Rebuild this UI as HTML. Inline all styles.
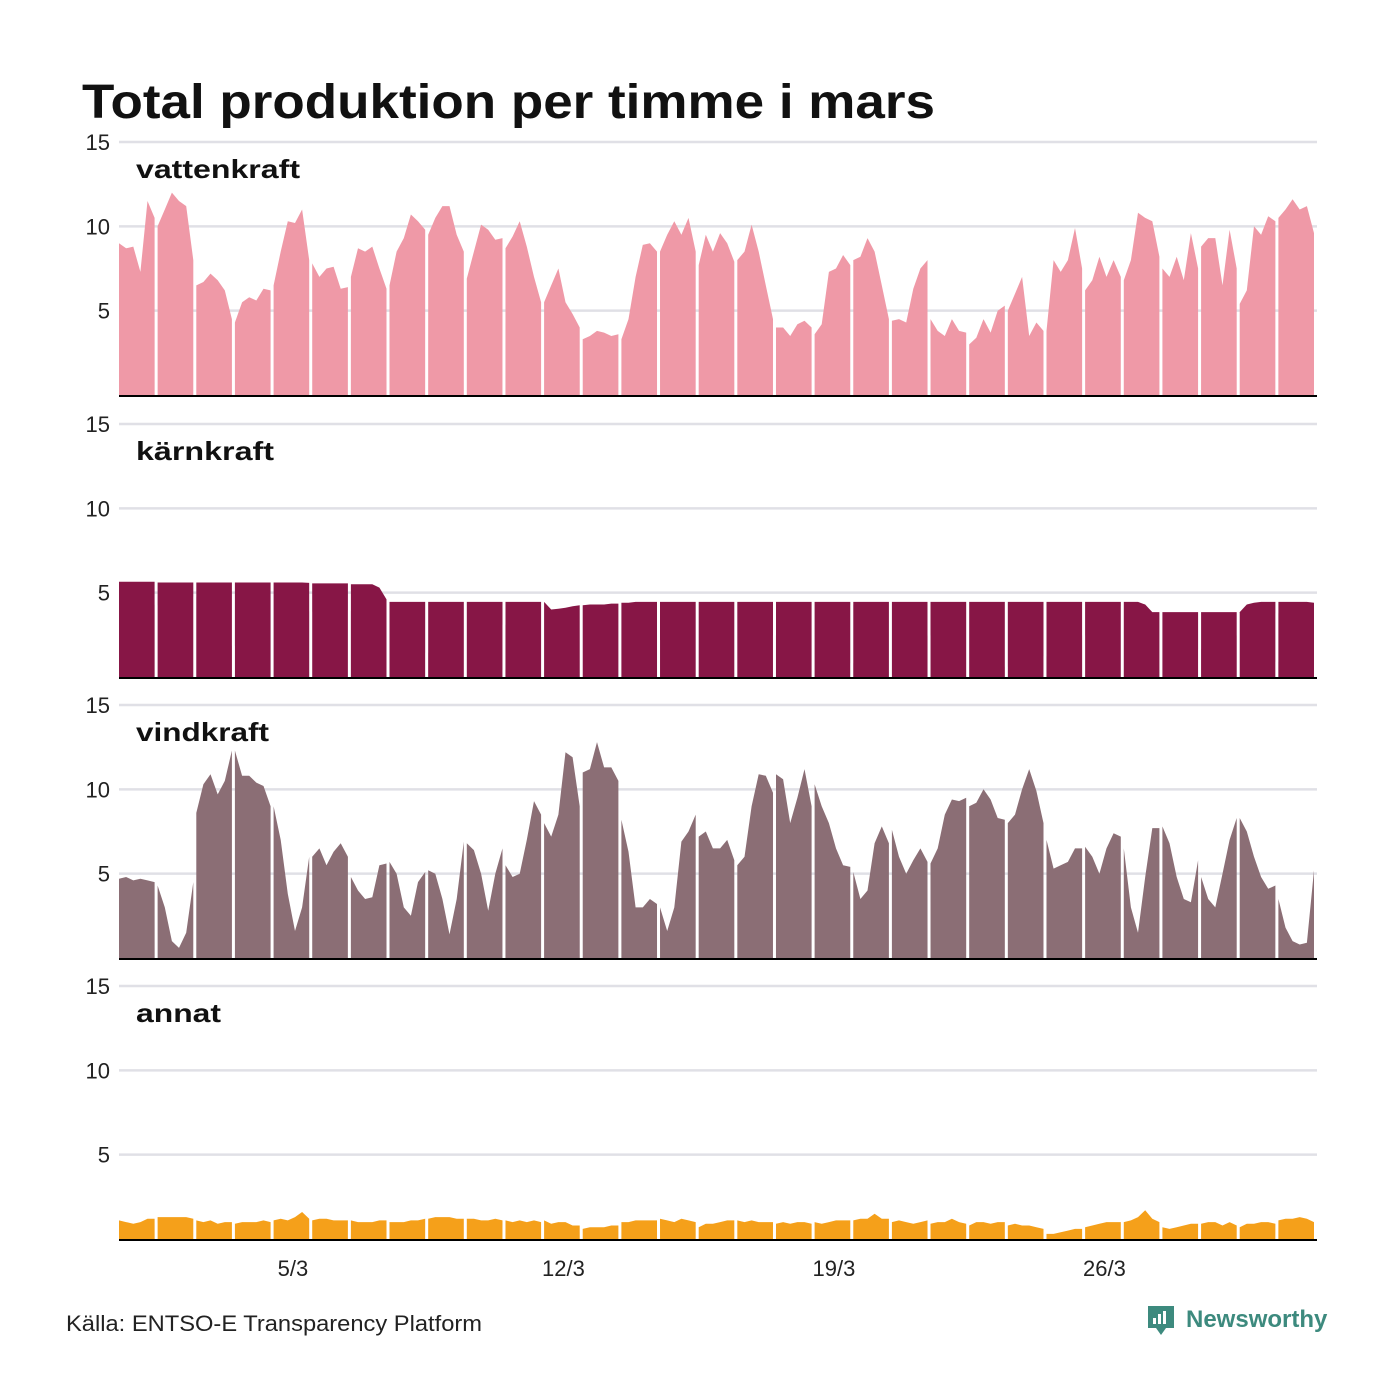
<!DOCTYPE html>
<html><head><meta charset="utf-8"><style>
body{margin:0;background:#fff;}
svg{display:block;font-family:"Liberation Sans",sans-serif;}
</style></head><body>
<svg id="c" width="1400" height="1400" viewBox="0 0 1400 1400">
<text x="82" y="118" font-size="48" font-weight="bold" fill="#111" textLength="853" lengthAdjust="spacingAndGlyphs">Total produktion per timme i mars</text>
<text x="66" y="1331" font-size="22" fill="#222" textLength="416" lengthAdjust="spacingAndGlyphs">Källa: ENTSO-E Transparency Platform</text>
<g>
<path d="M1148 1306h26v22h-8l-5 7-5-7h-8z" fill="#3d8a7e"/>
<rect x="1153" y="1318" width="3" height="6" fill="#fff"/><rect x="1158" y="1314" width="3" height="10" fill="#fff"/><rect x="1163" y="1311" width="3" height="13" fill="#fff"/>
<text x="1186" y="1327" font-size="24" font-weight="bold" fill="#3d8a7e">Newsworthy</text>
</g>
</svg>
<script>
const days = 31;
const xTickDays = [5, 12, 19, 26];
const xTickLabels = ["5/3", "12/3", "19/3", "26/3"];
const yTicks = [5, 10, 15];
const seriesNames = ["vattenkraft", "kärnkraft", "vindkraft", "annat"];
const seriesColors = ["#ef99a7", "#871646", "#8b6e75", "#f5a01a"];
const vatten = [
9,8.7,8.8,7.3,11.5,10.5, 10,11,12,11.5,11.2,8, 6.5,6.7,7.2,6.8,6.2,4.5, 4.3,5.5,5.8,5.6,6.3,6.2,
6.5,8.5,10.3,10.2,11,8, 7.8,7,7.5,7.6,6.3,6.4, 7,8.7,8.5,8.8,7.5,6.3, 6.5,8.5,9.3,10.7,10.3,9.8,
9.5,10.5,11.2,11.2,9.5,8.5, 6.9,8.5,10.1,9.8,9.2,9.3, 8.7,9.4,10.3,8.8,7,5.5, 5.5,6.5,7.5,5.5,4.8,4,
3.3,3.5,3.8,3.7,3.5,3.6, 3.3,4.5,7,8.9,9,8.5, 8.5,9.5,10.3,9.5,10.5,8.5, 7.7,9.5,8.5,9.6,9,7.9,
8,8.5,10.1,8.5,6.5,4.5, 4,4,3.5,4.2,4.4,4, 3.6,4.2,7.3,7.5,8.3,7.7, 8,8.2,9.3,8.5,6.5,4.5,
4.4,4.5,4.3,6.3,7.5,8, 4.5,3.8,3.5,4.5,3.8,3.7, 3,3.4,4.5,3.7,5,5.3, 5,6,7,3.5,4.3,3.8,
3.8,8,7.3,8,9.9,7.5, 6.2,6.8,8.2,7,8,7, 6.8,8,10.8,10.5,10.3,8.2, 7.5,7,8.2,6.8,9.6,7.5,
8.8,9.3,9.3,6.5,9.8,7.5, 5.4,6.2,10,9.5,10.6,10.3, 10.5,11,11.6,11,11.2,9.6];
const karn = [
5.65,5.65,5.65,5.65,5.65,5.65, 5.6,5.6,5.6,5.6,5.6,5.6, 5.6,5.6,5.6,5.6,5.6,5.6, 5.6,5.6,5.6,5.6,5.6,5.6,
5.6,5.6,5.6,5.6,5.6,5.58, 5.55,5.55,5.55,5.55,5.55,5.55, 5.5,5.5,5.5,5.5,5.3,4.6, 4.45,4.45,4.45,4.45,4.45,4.45,
4.45,4.45,4.45,4.45,4.45,4.45, 4.45,4.45,4.45,4.45,4.45,4.45, 4.45,4.45,4.45,4.45,4.45,4.45, 4.45,4.0,4.05,4.1,4.2,4.25,
4.25,4.3,4.3,4.3,4.35,4.35, 4.4,4.4,4.45,4.45,4.45,4.45, 4.45,4.45,4.45,4.45,4.45,4.45, 4.45,4.45,4.45,4.45,4.45,4.45,
4.45,4.45,4.45,4.45,4.45,4.45, 4.45,4.45,4.45,4.45,4.45,4.45, 4.45,4.45,4.45,4.45,4.45,4.45, 4.45,4.45,4.45,4.45,4.45,4.45,
4.45,4.45,4.45,4.45,4.45,4.45, 4.45,4.45,4.45,4.45,4.45,4.45, 4.45,4.45,4.45,4.45,4.45,4.45, 4.45,4.45,4.45,4.45,4.45,4.45,
4.45,4.45,4.45,4.45,4.45,4.45, 4.45,4.45,4.45,4.45,4.45,4.45, 4.45,4.45,4.45,4.3,3.85,3.85, 3.85,3.85,3.85,3.85,3.85,3.85,
3.85,3.85,3.85,3.85,3.85,3.85, 3.85,4.3,4.4,4.45,4.45,4.45, 4.45,4.45,4.45,4.45,4.45,4.4];
const vind = [
4.7,4.8,4.6,4.7,4.6,4.5, 4.3,3,1,0.6,1.5,4.5, 8.6,10.3,10.9,9.7,10.5,12.3, 12.3,10.8,10.8,10.4,10.2,9,
9,7,3.8,1.6,3,6, 6,6.5,5.5,6.3,6.8,6, 4.8,4,3.5,3.6,5.5,5.6, 5.7,5,3,2.5,4.5,5.1,
5.2,5,3.5,1.4,3.5,6.9, 6.8,6.4,5,2.8,5,6.5, 5.5,4.8,5,7,9.3,8.5, 8,7.2,8.5,12.2,11.9,9,
11,11.2,12.8,11.3,11.3,10.5, 8.2,6.3,3,3,3.5,3.2, 3,1.6,3,6.9,7.5,8.5, 7.2,7.5,6.5,6.5,7,5.8,
5.5,6,9,10.9,10.8,9.8, 10.9,10.6,8,9.5,11.2,9, 10.3,9,8,6.5,5.5,5.4, 5.1,3.5,4,6.8,7.8,6.8,
7.6,6,5,5.8,6.5,5.7, 5.6,6.5,8.5,9.4,9.3,9.5, 9,9.2,10,9.4,8.3,8.2, 8,8.5,10,11.2,9.9,8,
7,5.3,5.5,5.7,6.5,6.5, 6.6,6,5,6.5,7.4,7.2, 6.5,3,1.5,4.8,7.7,7.7, 7.8,6.8,4.8,3.5,3.3,5.8,
4.8,3.5,3,5,7,8.3, 8.3,7.5,6,4.8,4.1,4.3, 3.5,1.8,1,0.8,0.9,5.2];
const annat = [
1.1,1.0,0.9,1.0,1.2,1.2, 1.3,1.3,1.3,1.3,1.3,1.2, 1.1,1.0,1.1,0.9,1.0,1.0, 0.9,1.0,1.0,1.0,1.1,1.0,
1.1,1.2,1.1,1.3,1.6,1.2, 1.1,1.2,1.2,1.1,1.1,1.1, 1.1,1.0,1.0,1.0,1.1,1.1, 1.0,1.0,1.0,1.1,1.1,1.2,
1.2,1.3,1.3,1.3,1.2,1.2, 1.2,1.2,1.1,1.1,1.2,1.1, 1.1,1.0,1.1,1.0,1.1,1.0, 1.1,0.9,1.0,1.0,0.8,0.8,
0.6,0.7,0.7,0.7,0.8,0.8, 1.0,1.0,1.1,1.1,1.1,1.1, 1.2,1.1,1.0,1.2,1.1,1.0, 0.7,0.9,0.9,1.0,1.1,1.1,
1.1,1.0,1.1,1.0,1.0,1.0, 0.9,1.0,0.9,1.0,1.0,0.9, 1.0,0.9,1.0,1.1,1.1,1.1, 1.1,1.2,1.2,1.5,1.2,1.2,
1.0,1.1,1.0,0.9,1.0,1.1, 0.9,1.0,1.0,1.2,1.0,0.9, 0.8,1.0,1.0,0.9,1.0,1.0, 0.8,0.9,0.8,0.8,0.7,0.6,
0.3,0.3,0.4,0.5,0.6,0.6, 0.7,0.8,0.9,1.0,1.0,1.0, 1.0,1.1,1.3,1.7,1.2,1.0, 0.7,0.6,0.7,0.8,0.9,0.9,
0.9,1.0,1.0,0.8,1.0,0.8, 0.7,0.9,0.9,1.0,1.0,0.9, 1.1,1.2,1.2,1.3,1.2,1.0];
const allSeries = [vatten, karn, vind, annat];
const labelWidths = [164, 138, 133, 85];

const NS = "http://www.w3.org/2000/svg";
const svg = document.getElementById("c");
const X0 = 119, X1 = 1317, dayW = (X1 - X0) / days;
const panelBase = [395, 677, 958, 1239], panelH = 253;
const perDay = 6;
function xDay(d){ return X0 + d * dayW; }
function yVal(p, v){ return panelBase[p] - v / 15 * panelH; }
function mk(tag, attrs){ const e = document.createElementNS(NS, tag); for (const k in attrs) e.setAttribute(k, attrs[k]); svg.appendChild(e); return e; }

for (let p = 0; p < 4; p++) {
  for (const t of yTicks) {
    const y = yVal(p, t);
    const g = mk("line", {x1: X0, x2: X1, y1: y, y2: y, stroke: "#e0e0e6", "stroke-width": 2.5});
    
    
    const tl = mk("text", {x: 110, y: y + 8, "font-size": 22, "text-anchor": "end", fill: "#222"});
    tl.textContent = t;
    
    
  }
  const vals = allSeries[p];
  for (let d = 0; d < days; d++) {
    const xs = xDay(d), xe = xDay(d + 1) - 3;
    let pts = xs + "," + panelBase[p] + " ";
    for (let i = 0; i < perDay; i++) {
      const x = xs + (xe - xs) * i / (perDay - 1);
      pts += x.toFixed(1) + "," + yVal(p, vals[d * perDay + i]).toFixed(1) + " ";
    }
    pts += xe + "," + panelBase[p];
    const a = mk("polygon", {points: pts, fill: seriesColors[p]});
    
    
  }
  const bl = mk("line", {x1: X0, x2: X1, y1: panelBase[p] + 1, y2: panelBase[p] + 1, stroke: "#000", "stroke-width": 2});
  
  
  const lab = mk("text", {x: 136, y: panelBase[p] - 217, "font-size": 26, "font-weight": "bold", fill: "#111", textLength: labelWidths[p], lengthAdjust: "spacingAndGlyphs"});
  lab.textContent = seriesNames[p];
  
  
}
for (let i = 0; i < xTickDays.length; i++) {
  const t = mk("text", {x: xDay(xTickDays[i] - 0.5), y: 1276, "font-size": 22, "text-anchor": "middle", fill: "#222"});
  t.textContent = xTickLabels[i];
  
  
}
</script>
</body></html>
